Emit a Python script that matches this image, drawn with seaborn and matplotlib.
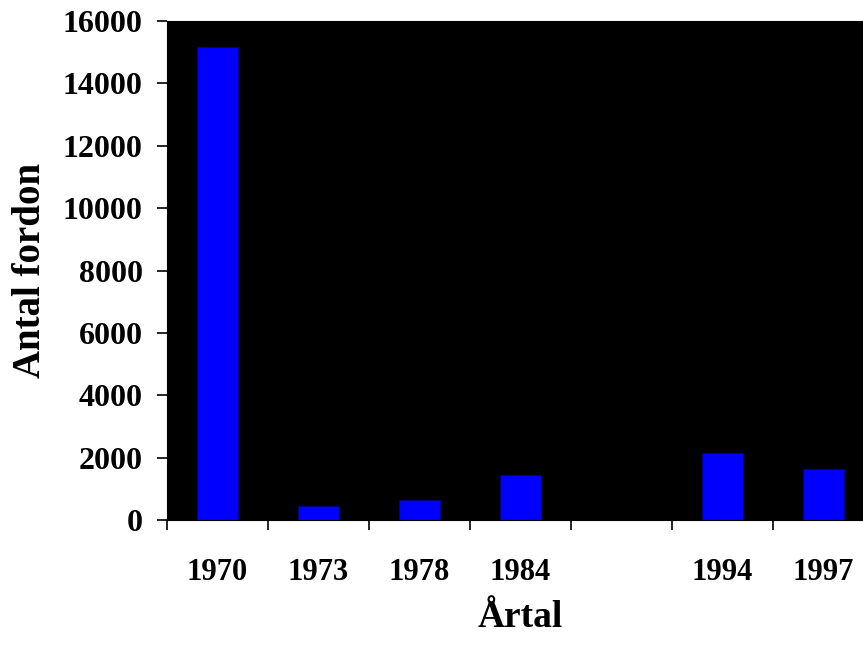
import numpy as np
import pandas as pd
import matplotlib
matplotlib.use("Agg")
import matplotlib.pyplot as plt
import seaborn as sns
from matplotlib.ticker import FixedLocator

# Data
categories = ["1970", "1973", "1978", "1984", "", "1994", "1997"]
values = [15170, 450, 650, 1430, np.nan, 2150, 1630]
y_ticks = [0, 2000, 4000, 6000, 8000, 10000, 12000, 14000, 16000]

sns.set_style("white")
plt.rcParams['font.family'] = ['Liberation Serif', 'DejaVu Serif']
plt.rcParams['font.weight'] = 'bold'
plt.rcParams['text.color'] = 'black'
plt.rcParams['axes.labelcolor'] = 'black'
plt.rcParams['xtick.color'] = 'black'
plt.rcParams['ytick.color'] = 'black'

df = pd.DataFrame({"year": categories, "count": values}).dropna()

fig = plt.figure(figsize=(8.63, 6.47), dpi=100)
ax = fig.add_axes([167/863, 127/647, 707/863, 499/647])
ax.set_facecolor("black")

sns.barplot(data=df, x="year", y="count", order=categories, color="#0000FF",
            saturation=1, width=0.4, edgecolor="#000080", linewidth=0.8, ax=ax)

ax.set_xlim(-0.5, len(categories) - 0.5)
ax.set_ylim(0, 16000)
ax.set_yticks(y_ticks)
ax.set_yticklabels([str(t) for t in y_ticks], fontsize=23, fontweight='bold', color='black')
ax.set_xticks(range(len(categories)))
ax.set_xticklabels(categories, fontsize=22, fontweight='bold', color='black')
ax.xaxis.set_minor_locator(FixedLocator(np.arange(-0.5, len(categories), 1.0)))
ax.tick_params(axis='x', which='major', length=0, pad=27)
ax.tick_params(axis='x', which='minor', length=7, width=1.2, color='black', direction='out', bottom=True)
ax.tick_params(axis='y', which='major', length=7.5, width=1.2, color='black', direction='out', pad=10, left=True)

ax.set_xlabel("Årtal", fontsize=27, fontweight='bold', labelpad=10, color='black')
ax.set_ylabel("Antal fordon", fontsize=28, fontweight='bold', labelpad=10, color='black')

for s in ax.spines.values():
    s.set_color("black")

fig.savefig("out.png", dpi=100)
